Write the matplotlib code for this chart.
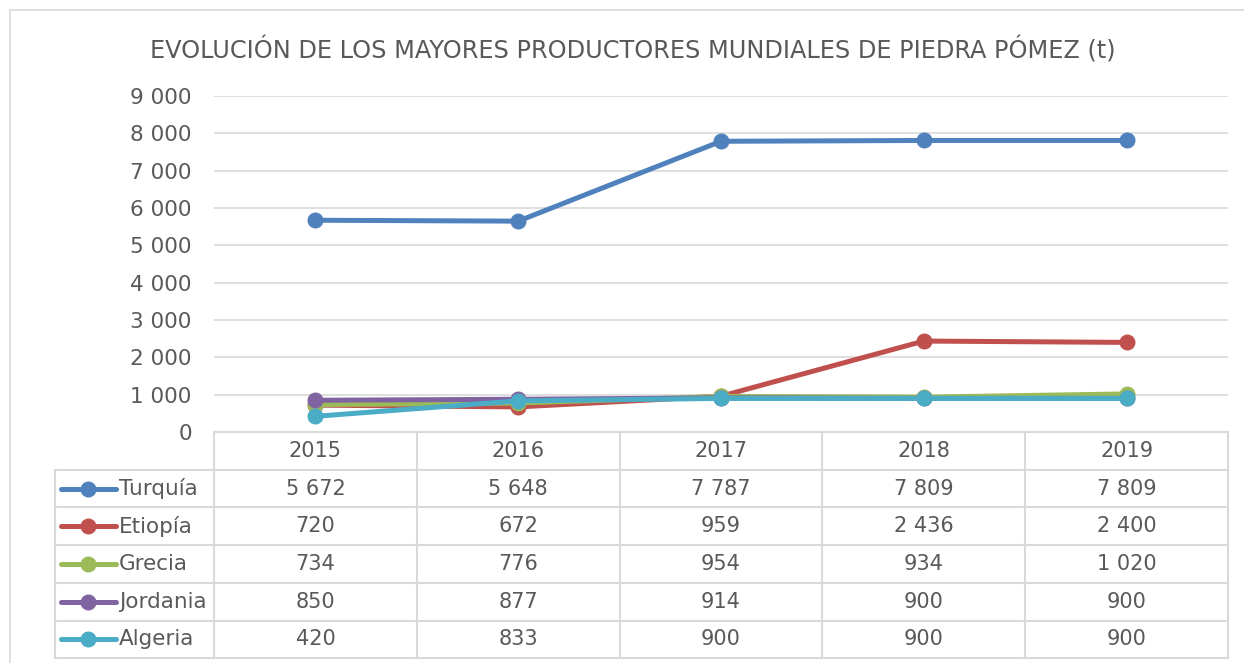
import numpy as np
import matplotlib
matplotlib.use("Agg")
import matplotlib.pyplot as plt
from matplotlib.lines import Line2D
from matplotlib.patches import Rectangle

# data
years = ["2015", "2016", "2017", "2018", "2019"]
countries = ["Turquía", "Etiopía", "Grecia", "Jordania", "Algeria"]
turquia = [5672, 5648, 7787, 7809, 7809]
etiopia = [720, 672, 959, 2436, 2400]
grecia = [734, 776, 954, 934, 1020]
jordania = [850, 877, 914, 900, 900]
algeria = [420, 833, 900, 900, 900]
series = [turquia, etiopia, grecia, jordania, algeria]
colors = ["#4f81bd", "#c0504d", "#9bbb59", "#8064a2", "#4bacc6"]
yticks = [0, 1000, 2000, 3000, 4000, 5000, 6000, 7000, 8000, 9000]

title = "EVOLUCIÓN DE LOS MAYORES PRODUCTORES MUNDIALES DE PIEDRA PÓMEZ (t)"

def fmt(v):
    return f"{v:,}".replace(",", " ")

W, H = 1244, 663
txt = "#595959"
grid = "#d9d9d9"
plt.rcParams['font.family'] = ['DejaVu Sans']

fig = plt.figure(figsize=(W / 100, H / 100), dpi=100)

def fx(px):
    return px / W

def fy(py):
    return 1 - py / H

# outer frame
fig.patches.append(Rectangle((fx(10), fy(700)), 1.2, fy(10) - fy(700),
                             transform=fig.transFigure, fill=False,
                             edgecolor=grid, lw=1.2))

left, right, top, bottom = 214, 1228, 96, 432
ax = fig.add_axes([fx(left), fy(bottom), fx(right - left), fy(top) - fy(bottom)])
x = np.arange(len(years))
for vals, c in zip(series, colors):
    ax.plot(x, vals, color=c, lw=3.6, marker="o", ms=10.5, zorder=3)

ax.set_xlim(-0.5, len(years) - 0.5)
ax.set_ylim(0, 9000)
ax.set_yticks(yticks)
ax.set_yticklabels([fmt(v) for v in yticks], fontsize=15.5, color=txt)
ax.tick_params(axis="y", length=0, pad=16)
ax.set_xticks([])
ax.grid(axis="y", color=grid, lw=1.2)
ax.set_axisbelow(True)
for s in ax.spines.values():
    s.set_visible(False)

fig.text(fx(633), fy(50), title, ha="center", va="center", fontsize=17.3, color=txt)

# data table under the plot
row_h = 37.7
col_w = (right - left) / len(years)
leg_left = 55
hdr_bot = bottom + row_h
tab_bot = hdr_bot + row_h * len(countries)

def hline(y, x0, x1):
    fig.add_artist(Line2D([fx(x0), fx(x1)], [fy(y), fy(y)], color=grid, lw=1.5))

def vline(xp, y0, y1):
    fig.add_artist(Line2D([fx(xp), fx(xp)], [fy(y0), fy(y1)], color=grid, lw=1.5))

hline(bottom, left, right)
for i in range(len(countries) + 1):
    hline(hdr_bot + i * row_h, leg_left, right)
for j in range(len(years) + 1):
    vline(left + j * col_w, bottom, tab_bot)
vline(leg_left, hdr_bot, tab_bot)

for j, yr in enumerate(years):
    fig.text(fx(left + (j + 0.5) * col_w), fy(bottom + row_h / 2), yr,
             ha="center", va="center", fontsize=15, color=txt)

for i, (name, vals, c) in enumerate(zip(countries, series, colors)):
    yc = hdr_bot + (i + 0.5) * row_h
    fig.add_artist(Line2D([fx(61), fx(116)], [fy(yc), fy(yc)], color=c, lw=3.6,
                          solid_capstyle="round"))
    fig.add_artist(Line2D([fx(88)], [fy(yc)], color=c, marker="o", ms=10.5))
    fig.text(fx(119), fy(yc), name, ha="left", va="center", fontsize=15.5, color=txt)
    for j, v in enumerate(vals):
        fig.text(fx(left + (j + 0.5) * col_w), fy(yc), fmt(v),
                 ha="center", va="center", fontsize=15, color=txt)

fig.savefig("out.png", dpi=100, facecolor="white")
